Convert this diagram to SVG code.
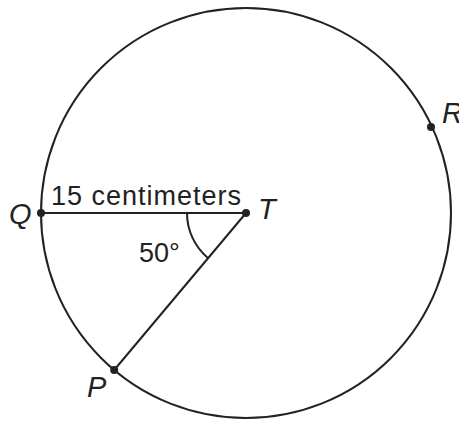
<svg xmlns="http://www.w3.org/2000/svg" width="459" height="423" viewBox="0 0 459 423">
<style>
.ln{fill:none;stroke:#222;stroke-width:2}
.dot{fill:#222}
.lab{font-family:"Liberation Sans",Arial,sans-serif;font-style:italic;font-size:29px;fill:#222}
.txt{font-family:"Liberation Sans",Arial,sans-serif;font-size:27px;fill:#222}
</style>
<rect width="459" height="423" fill="#fff"/>
<g id="circle"><circle class="ln" cx="246" cy="213" r="205"/></g>
<g id="connectors">
<line class="ln" x1="41" y1="213" x2="246" y2="213"/>
<line class="ln" x1="246" y1="213" x2="114.2" y2="370"/>
<path class="ln" d="M187 213 A59 59 0 0 0 208.1 258.2" stroke-width="1.6"/>
</g>
<g id="T"><circle class="dot" cx="246" cy="213" r="4"/><text class="lab" x="258" y="219">T</text></g>
<g id="Q"><circle class="dot" cx="41" cy="213" r="4"/><text class="lab" x="9" y="224">Q</text></g>
<g id="R"><circle class="dot" cx="431" cy="127" r="4"/><text class="lab" x="442" y="123">R</text></g>
<g id="P"><circle class="dot" cx="114.2" cy="370" r="4"/><text class="lab" x="87" y="397">P</text></g>
<g id="labels">
<text class="txt" x="51" y="205" textLength="190" lengthAdjust="spacing">15 centimeters</text>
<text class="txt" x="139" y="262">50°</text>
</g>
</svg>
